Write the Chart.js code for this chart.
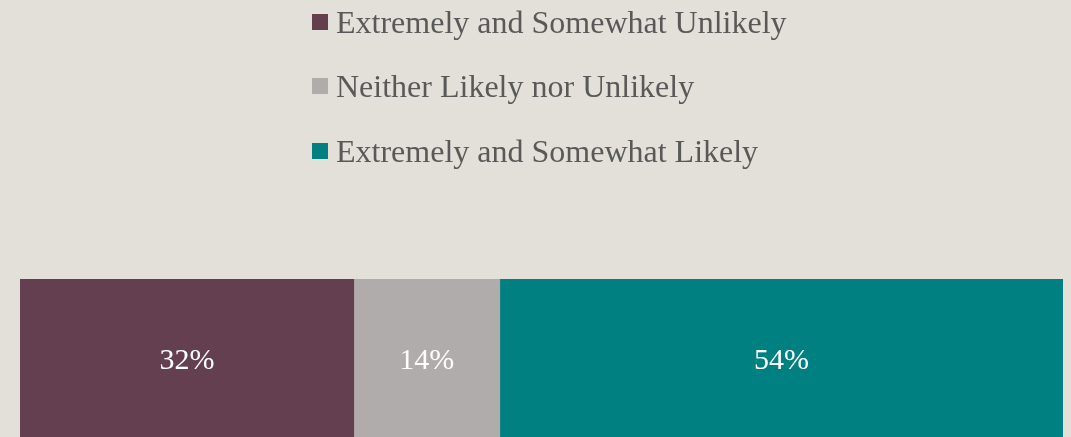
<!DOCTYPE html>
<html>
<head>
<meta charset="utf-8">
<script src="https://cdn.jsdelivr.net/npm/chart.js@4/dist/chart.umd.min.js"></script>
<style>
  html, body { margin: 0; padding: 0; background: #E3E0D9; }
  #wrap { width: 1071px; height: 437px; }
</style>
</head>
<body>
<div id="wrap"><canvas id="likelyChart"></canvas></div>
<script>
/* Data */
const categories = ['Likelihood'];
const series_names = [
    'Extremely and Somewhat Unlikely',
    'Neither Likely nor Unlikely',
    'Extremely and Somewhat Likely'
];
const series_values = [32, 14, 54];
const series_colors = ['#633F50', '#B0ACAB', '#008080'];

const SERIF = '"Liberation Serif", "Times New Roman", serif';

// vertical legend list drawn above the bar
const stackedLegend = {
    id: 'stackedLegend',
    afterDraw(chart) {
        const ctx = chart.ctx;
        const area = chart.chartArea;
        ctx.save();
        ctx.font = '32px ' + SERIF;
        let widest = 0;
        chart.data.datasets.forEach(ds => {
            widest = Math.max(widest, ctx.measureText(ds.label).width);
        });
        const box = 16, gap = 8;
        const left = Math.round((area.left + area.right) / 2 - (box + gap + widest) / 2 + 8);
        chart.data.datasets.forEach((ds, i) => {
            const cy = 21.5 + i * 64.7;
            ctx.fillStyle = ds.backgroundColor;
            ctx.fillRect(left, Math.round(cy - box / 2), box, box);
            ctx.fillStyle = '#595959';
            ctx.textAlign = 'left';
            ctx.textBaseline = 'alphabetic';
            ctx.fillText(ds.label, left + box + gap, cy + 11);
        });
        ctx.restore();
    }
};

// percentage labels centred in each segment
const segmentLabels = {
    id: 'segmentLabels',
    afterDatasetsDraw(chart) {
        const ctx = chart.ctx;
        ctx.save();
        ctx.font = '30px ' + SERIF;
        ctx.fillStyle = '#FFFFFF';
        ctx.textAlign = 'center';
        ctx.textBaseline = 'middle';
        chart.data.datasets.forEach((ds, i) => {
            chart.getDatasetMeta(i).data.forEach((bar, j) => {
                const cx = (bar.x + bar.base) / 2;
                ctx.fillText(ds.data[j] + '%', cx, bar.y + 3);
            });
        });
        ctx.restore();
    }
};

/* Create chart */
const my_chart = new Chart('likelyChart', {
    type: 'bar',
    data: {
        labels: categories,
        datasets: series_names.map((name, i) => ({
            label: name,
            data: [series_values[i]],
            backgroundColor: series_colors[i],
            borderWidth: 0,
            barPercentage: 1,
            categoryPercentage: 1
        }))
    },
    options: {
        indexAxis: 'y',
        responsive: true,
        maintainAspectRatio: false,
        animation: false,
        layout: {
            padding: { top: 279, left: 20, right: 8, bottom: 0 }
        },
        scales: {
            x: { stacked: true, min: 0, max: 100, display: false },
            y: { stacked: true, display: false }
        },
        plugins: {
            legend: { display: false },
            tooltip: { enabled: false }
        }
    },
    plugins: [stackedLegend, segmentLabels]
});
</script>
</body>
</html>
